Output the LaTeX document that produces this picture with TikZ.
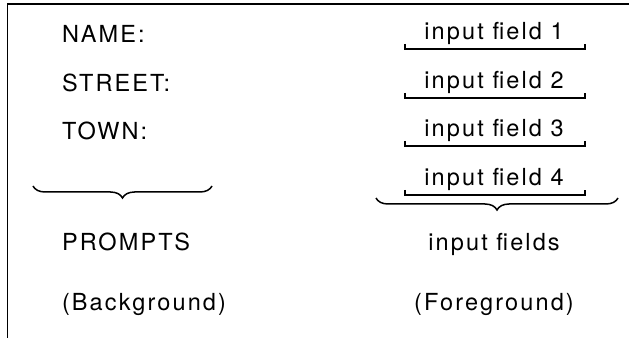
\documentclass[tikz,border=0pt]{standalone}
\usepackage{fontspec}
\newfontfamily\formfont{TeX Gyre Heros}[LetterSpace=9]
\usetikzlibrary{decorations.pathreplacing}
\begin{document}
\begin{tikzpicture}[x=1pt,y=-1pt,
  every node/.style={inner sep=0pt,outer sep=0pt,font=\formfont\fontsize{23.5}{27}\selectfont},
  prompt/.style={anchor=base west},
  field/.style={anchor=base},
  frameline/.style={line width=1.8pt},
  slot/.style={line width=1.3pt},
  grouping/.style={line width=1.5pt,decorate,
    decoration={brace,amplitude=12pt}}]
\useasboundingbox (0,0) rectangle (629,347);

% screen frame: top and left edges
\draw[frameline] (629,4) -- (7.5,4) -- (7.5,338);

% prompts (background)
\node[prompt] (name)   at (62,43)  {NAME:};
\node[prompt] (street) at (62,92)  {STREET:};
\node[prompt] (town)   at (62,140) {TOWN:};

% input fields (foreground)
\foreach \i/\y in {1/40,2/89,3/137,4/186}{
  \node[field] (f\i) at (494,\y) {input field \i};
  \draw[slot] (405,\y+4) -- (405,\y+9) -- (585,\y+9) -- (585,\y+4);
}

% group braces
\coordinate (pl) at (33,186);
\coordinate (pr) at (212,186);
\coordinate (il) at (376,198);
\coordinate (ir) at (618,198);
\draw[grouping] (pr) -- (pl);
\draw[grouping] (ir) -- (il);

\node[prompt] (prompts) at (62,251) {PROMPTS};
\node[field]  (fields)  at (494,251) {input fields};
\node[prompt] (bg)      at (62,310) {(Background)};
\node[field]  (fg)      at (494,310) {(Foreground)};
\end{tikzpicture}
\end{document}
